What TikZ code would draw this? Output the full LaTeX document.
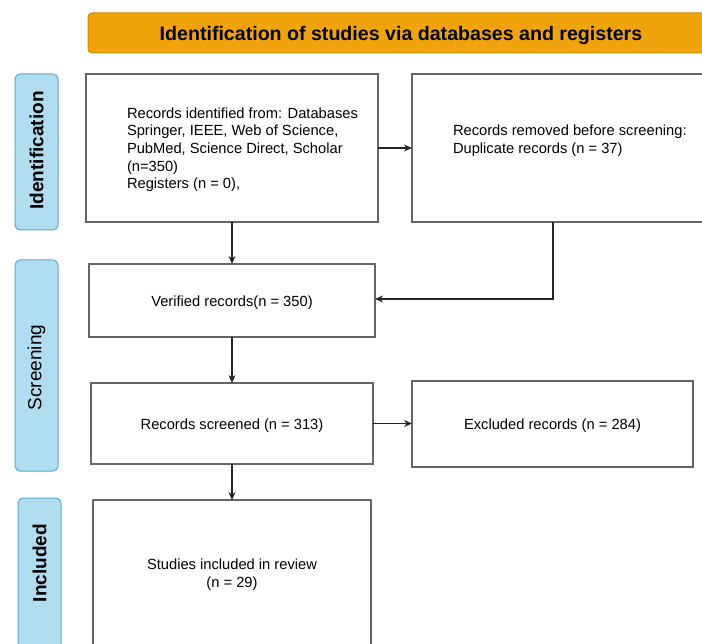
\documentclass[tikz,border=0pt]{standalone}
\usepackage{fontspec}
\setmainfont{Liberation Sans}
\usetikzlibrary{arrows.meta}
\definecolor{ttlfill}{HTML}{F0A30A}
\definecolor{ttlline}{HTML}{C98A10}
\definecolor{lblfill}{HTML}{B1DDF0}
\definecolor{lblline}{HTML}{5AA9CF}
\definecolor{boxline}{HTML}{666666}
\tikzset{
  every node/.style={inner sep=0pt, outer sep=0pt},
  flowbox/.style={draw=boxline, line width=1.3pt, fill=white, rectangle},
  sidelabel/.style={draw=lblline, line width=1pt, fill=lblfill, rounded corners=5pt, rectangle},
  sidetext/.style={rotate=90, font=\fontsize{19}{22}\selectfont},
  boxtext/.style={font=\fontsize{14.7}{17.7}\selectfont},
  conn/.style={draw=black!85, line width=1.2pt},
  arr/.style={conn, -{Stealth[length=8pt,width=7pt]}},
}
\begin{document}
\begin{tikzpicture}[x=1pt,y=-1pt]
\useasboundingbox (0,0) rectangle (702,644);
% title
\node[draw=ttlline, line width=1pt, fill=ttlfill, rounded corners=4pt, minimum width=626pt, minimum height=40pt] (title) at (401,33) {};
\node[font=\fontsize{19.6}{23}\selectfont\bfseries] (titletext) at (401,35) {Identification of studies via databases and registers};
% side labels
\node[sidelabel, minimum width=43pt, minimum height=156pt] (lid) at (36.5,152) {};
\node[sidetext, font=\fontsize{19}{22}\selectfont\bfseries] (lidt) at (36.5,150.5) {Identification};
\node[sidelabel, minimum width=43pt, minimum height=211pt] (lsc) at (36.5,365.5) {};
\node[sidetext] (lsct) at (36.5,367.5) {Screening};
\node[sidelabel, minimum width=43pt, minimum height=170pt] (lin) at (39.5,583) {};
\node[sidetext, font=\fontsize{19}{22}\selectfont\bfseries] (lint) at (39.5,563) {Included};
% boxes
\node[flowbox, minimum width=292pt, minimum height=148pt] (b1) at (232,148) {};
\node[boxtext, align=left, anchor=north west] (b1t) at (127,107.5) {Records identified from: Databases\\Springer, IEEE, Web of Science,\\PubMed, Science Direct, Scholar\\(n=350)\\Registers (n = 0),};
\node[flowbox, minimum width=310pt, minimum height=148pt] (b2) at (567,148) {};
\node[boxtext, align=left, anchor=north west] (b2t) at (453,125) {Records removed before screening:\\Duplicate records (n = 37)};
\node[flowbox, minimum width=286pt, minimum height=73pt] (b3) at (232,300.5) {};
\node[boxtext] (b3t) at (232,302.5) {Verified records(n = 350)};
\node[flowbox, minimum width=282pt, minimum height=81pt] (b4) at (232,423.5) {};
\node[boxtext] (b4t) at (232,426) {Records screened (n = 313)};
\node[flowbox, minimum width=281pt, minimum height=86pt] (b5) at (552.5,424) {};
\node[boxtext] (b5t) at (552.5,426) {Excluded records (n = 284)};
\node[flowbox, minimum width=278pt, minimum height=170pt] (b6) at (232,585) {};
\node[boxtext, align=center] (b6t) at (232,575) {Studies included in review\\(n = 29)};
% connectors
\coordinate (k) at (553,299);
\draw[arr] (b1.east) -- (b2.west);
\draw[arr] (b1.south) -- (b3.north);
\draw[arr] (k |- b2.south) -- (k) -- (b3.east |- k);
\draw[arr] (b3.south) -- (b4.north);
\draw[arr] (b4.east) -- (b5.west |- b4.east);
\draw[arr] (b4.south) -- (b6.north);
\end{tikzpicture}
\end{document}
